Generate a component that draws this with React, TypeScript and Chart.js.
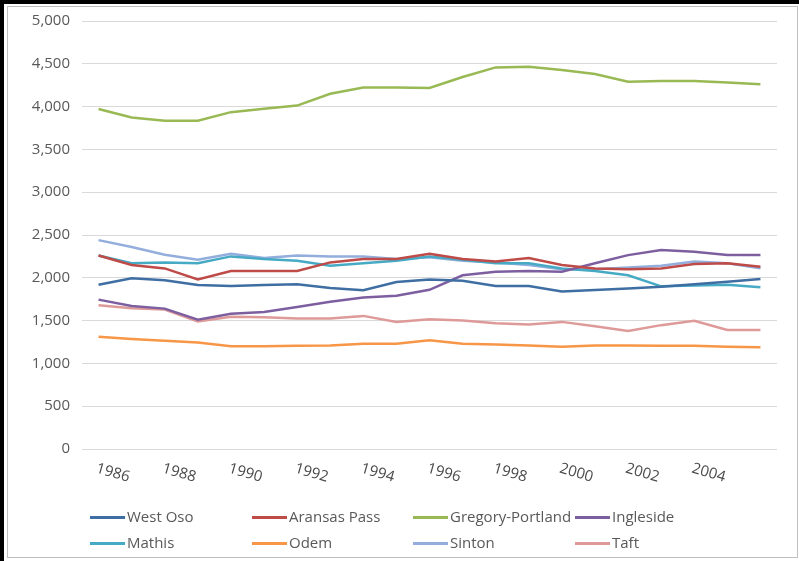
import React, { useEffect, useRef } from "react";
import { Chart, registerables } from "chart.js";

Chart.register(...registerables);

const years = [
  "1986", "1987", "1988", "1989", "1990", "1991", "1992", "1993", "1994", "1995",
  "1996", "1997", "1998", "1999", "2000", "2001", "2002", "2003", "2004", "2005", "2006",
];

const westOso = [1920, 1995, 1970, 1915, 1905, 1915, 1925, 1880, 1855, 1950, 1980, 1965, 1905, 1905, 1840, 1857, 1876, 1895, 1926, 1953, 1985];
const aransasPass = [2260, 2150, 2110, 1980, 2080, 2080, 2080, 2180, 2220, 2220, 2280, 2220, 2190, 2230, 2150, 2110, 2100, 2110, 2160, 2170, 2130];
const gregoryPortland = [3972, 3873, 3835, 3835, 3935, 3975, 4012, 4150, 4222, 4222, 4218, 4345, 4458, 4466, 4428, 4381, 4290, 4298, 4298, 4282, 4262];
const ingleside = [1745, 1670, 1640, 1510, 1580, 1600, 1660, 1720, 1770, 1790, 1860, 2030, 2070, 2080, 2070, 2170, 2265, 2325, 2305, 2265, 2265];
const mathis = [2260, 2170, 2180, 2170, 2250, 2220, 2200, 2140, 2170, 2200, 2250, 2210, 2170, 2170, 2110, 2080, 2030, 1900, 1910, 1920, 1890];
const odem = [1310, 1285, 1265, 1245, 1200, 1200, 1205, 1210, 1230, 1230, 1270, 1230, 1220, 1210, 1195, 1210, 1210, 1205, 1205, 1195, 1190];
const sinton = [2440, 2360, 2270, 2210, 2280, 2230, 2260, 2250, 2250, 2220, 2240, 2200, 2180, 2150, 2100, 2100, 2120, 2140, 2190, 2170, 2110];
const taft = [1680, 1645, 1630, 1490, 1545, 1540, 1525, 1525, 1555, 1485, 1515, 1500, 1470, 1455, 1485, 1435, 1380, 1447, 1498, 1390, 1390];

const seriesNames = ["West Oso", "Aransas Pass", "Gregory-Portland", "Ingleside", "Mathis", "Odem", "Sinton", "Taft"];
const seriesData = [westOso, aransasPass, gregoryPortland, ingleside, mathis, odem, sinton, taft];
const seriesColors = ["#3F6EA3", "#BE4B48", "#98B954", "#7D5FA0", "#46AAC5", "#F79646", "#93AEDC", "#DE9A98"];

const yMin = 0;
const yMax = 5000;
const yStep = 500;

const FONT = '"Open Sans", "Liberation Sans", sans-serif';
const TEXT_COLOR = "#595959";

const xLabelPlugin = {
  id: "xLabelsRotated",
  afterDraw(chart: any) {
    const { ctx, scales, chartArea } = chart;
    const x = scales.x;
    ctx.save();
    ctx.font = `15px ${FONT}`;
    ctx.fillStyle = "#4A4A4A";
    ctx.textAlign = "left";
    ctx.textBaseline = "top";
    years.forEach((lab, i) => {
      if (i % 2 !== 0 || i === years.length - 1) return;
      const px = x.getPixelForValue(i);
      ctx.save();
      ctx.translate(px + 0, chartArea.bottom + 12);
      ctx.rotate((16 * Math.PI) / 180);
      ctx.fillText(lab, 0, 0);
      ctx.restore();
    });
    ctx.restore();
  },
};

export default function App() {
  const canvasRef = useRef<HTMLCanvasElement | null>(null);

  useEffect(() => {
    let chart: Chart | null = null;
    let cancelled = false;
    const create = () => {
      if (cancelled || !canvasRef.current) return;
      chart = new Chart(canvasRef.current, {
        type: "line",
        data: {
          labels: years,
          datasets: seriesNames.map((name, i) => ({
            label: name,
            data: seriesData[i],
            borderColor: seriesColors[i],
            backgroundColor: seriesColors[i],
            borderWidth: 2.5,
            pointRadius: 0,
            tension: 0,
            fill: false,
          })),
        },
        options: {
          responsive: false,
          animation: false,
          devicePixelRatio: 1,
          layout: { padding: { left: 0, right: 22, top: 21, bottom: 0 } },
          plugins: {
            legend: { display: false },
            tooltip: { enabled: false },
          },
          scales: {
            x: {
              type: "category",
              offset: true,
              grid: { display: false },
              border: { display: false },
              ticks: { display: false },
              afterFit: (scale: any) => {
                scale.height = 112;
              },
            },
            y: {
              min: yMin,
              max: yMax,
              grid: { color: "#D9D9D9", lineWidth: 1, drawTicks: false },
              border: { display: false },
              ticks: {
                stepSize: yStep,
                padding: 12,
                color: TEXT_COLOR,
                font: { family: FONT, size: 15 },
                callback: (v: any) => Number(v).toLocaleString("en-US"),
              },
              afterFit: (scale: any) => {
                scale.width = 82;
              },
            },
          },
        },
        plugins: [xLabelPlugin],
      });
    };
    const fontsReady = (document as any).fonts
      ? (document as any).fonts.load(`15px "Open Sans"`).catch(() => null)
      : Promise.resolve();
    fontsReady.then(create);
    return () => {
      cancelled = true;
      if (chart) chart.destroy();
    };
  }, []);

  const legendCols = [90, 252, 413, 575];
  const legendRows = [517, 543];

  return (
    <div
      style={{
        position: "fixed",
        left: 0,
        top: 0,
        width: 799,
        height: 561,
        background: "#fff",
        overflow: "hidden",
        fontFamily: FONT,
      }}
    >
      <div
        style={{
          position: "absolute",
          left: 7,
          top: 6,
          width: 791,
          height: 552,
          border: "1px solid #BFBFBF",
          boxSizing: "border-box",
        }}
      />
      <div
        style={{
          position: "absolute",
          left: 0,
          top: 0,
          width: 799,
          height: 561,
          borderLeft: "4px solid #000",
          borderTop: "4px solid #000",
          boxSizing: "border-box",
        }}
      />
      <canvas
        ref={canvasRef}
        width={799}
        height={561}
        style={{ position: "absolute", left: 0, top: 0, width: 799, height: 561 }}
      />
      {seriesNames.map((name, i) => {
        const col = legendCols[i % 4];
        const row = legendRows[Math.floor(i / 4)];
        return (
          <div key={name}>
            <div
              style={{
                position: "absolute",
                left: col,
                top: row - 1.5,
                width: 35,
                height: 3,
                background: seriesColors[i],
              }}
            />
            <div
              style={{
                position: "absolute",
                left: col + 37,
                top: row - 11,
                height: 20,
                lineHeight: "20px",
                fontSize: 15,
                color: TEXT_COLOR,
                whiteSpace: "nowrap",
              }}
            >
              {name}
            </div>
          </div>
        );
      })}
    </div>
  );
}
